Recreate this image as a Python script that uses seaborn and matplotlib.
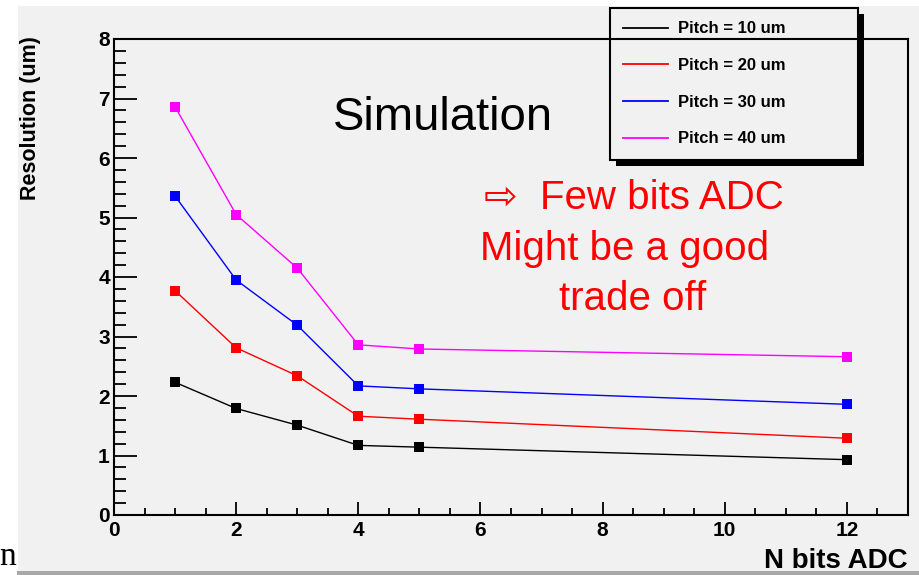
import numpy as np
import pandas as pd
import matplotlib
matplotlib.use("Agg")
import matplotlib.pyplot as plt
from matplotlib.patches import Rectangle
from matplotlib.lines import Line2D
from matplotlib.ticker import MultipleLocator
import seaborn as sns

# ---- data ----
n_bits = [1, 2, 3, 4, 5, 12]
pitch_labels = ["Pitch = 10 um", "Pitch = 20 um", "Pitch = 30 um", "Pitch = 40 um"]
res_10um = [2.23, 1.79, 1.51, 1.17, 1.14, 0.93]
res_20um = [3.77, 2.81, 2.34, 1.66, 1.61, 1.29]
res_30um = [5.36, 3.95, 3.19, 2.17, 2.12, 1.86]
res_40um = [6.86, 5.05, 4.15, 2.86, 2.79, 2.66]
colors = ["#000000", "#ff0000", "#0000ff", "#ff00ff"]

df = pd.concat(
    [pd.DataFrame({"nbits": n_bits, "res": vals, "pitch": lab})
     for lab, vals in zip(pitch_labels, [res_10um, res_20um, res_30um, res_40um])],
    ignore_index=True,
)

W, H = 920, 575
BG = "#f1f1f1"
SANS = ["Liberation Sans", "DejaVu Sans"]

fig = plt.figure(figsize=(W / 100, H / 100), dpi=100, facecolor="white")
# slide background panel and its bottom edge
fig.patches.append(Rectangle((18 / W, 1 - 571 / H), 1, (571 - 6) / H,
                             transform=fig.transFigure, facecolor=BG,
                             edgecolor="none", zorder=-10))
fig.patches.append(Rectangle((17 / W, 0), 1, 4 / H, transform=fig.transFigure,
                             facecolor="#a8a8a8", edgecolor="none", zorder=-9))

ax = fig.add_axes([114 / W, 1 - 515 / H, (908 - 114) / W, (515 - 39) / H])
ax.set_facecolor("none")

sns.lineplot(data=df, x="nbits", y="res", hue="pitch", hue_order=pitch_labels,
             palette=colors, marker="s", markersize=6.5, markeredgewidth=0,
             linewidth=1.0, errorbar=None, legend=False, ax=ax)

ax.set_xlim(0, 13)
ax.set_ylim(0, 8)
ax.set_xlabel("")
ax.set_ylabel("")
ax.xaxis.set_major_locator(MultipleLocator(2))
ax.xaxis.set_minor_locator(MultipleLocator(0.5))
ax.yaxis.set_major_locator(MultipleLocator(1))
ax.yaxis.set_minor_locator(MultipleLocator(0.2))
ax.tick_params(axis="y", which="major", direction="in", length=16.5, width=1.3, pad=3)
ax.tick_params(axis="y", which="minor", direction="in", length=8.5, width=1.3)
ax.tick_params(axis="x", which="major", direction="in", length=9.5, width=1.3, pad=4)
ax.tick_params(axis="x", which="minor", direction="in", length=5, width=1.3)
for lab in ax.get_xticklabels() + ax.get_yticklabels():
    lab.set_fontfamily(SANS)
    lab.set_fontweight("bold")
    lab.set_fontsize(15)
for sp in ax.spines.values():
    sp.set_linewidth(1.5)
    sp.set_color("black")

# axis titles
fig.text(31 / W, 1 - 36 / H, "Resolution (um)", rotation=90, ha="center", va="top",
         family=SANS, weight="bold", size=15.5)
fig.text(908 / W, 1 - 568 / H, "N bits ADC", ha="right", va="baseline",
         family=SANS, weight="bold", size=20)

# legend
handles = [Line2D([], [], color=c, linewidth=1.3) for c in colors]
leg = ax.legend(handles, pitch_labels, loc="upper left", mode="expand",
                bbox_to_anchor=(610 / W, 1 - 158 / H, 248 / W, 150 / H),
                bbox_transform=fig.transFigure, borderaxespad=0,
                prop={"family": SANS, "weight": "bold", "size": 12},
                handlelength=2.7, handletextpad=0.6, labelspacing=1.3,
                borderpad=0.8, fancybox=False, framealpha=1,
                facecolor=BG, edgecolor="black")
leg.get_frame().set_linewidth(1.5)
leg.set_zorder(2.4)

fig.canvas.draw()
bb = leg.get_window_extent()
inv = fig.transFigure.inverted()
(x0, y0), (x1, y1) = inv.transform([[bb.x0 + 6, bb.y0 - 6], [bb.x1 + 6, bb.y1 - 6]])
ax.add_artist(Rectangle((x0, y0), x1 - x0, y1 - y0, transform=fig.transFigure,
                        facecolor="black", edgecolor="none", zorder=2.3,
                        clip_on=False))

# annotations
fig.text(333 / W, 1 - 130 / H, "Simulation", ha="left", va="baseline",
         family=SANS, size=34, color="black")
fig.text(634 / W, 1 - 209 / H, "\u21e8  Few bits ADC", ha="center", va="baseline",
         family=SANS, size=29, color="#ff0000")
fig.text(625 / W, 1 - 260 / H, "Might be a good", ha="center", va="baseline",
         family=SANS, size=29, color="#ff0000")
fig.text(633 / W, 1 - 310 / H, "trade off", ha="center", va="baseline",
         family=SANS, size=29, color="#ff0000")
fig.text(-1 / W, 1 - 565 / H, "n", ha="left", va="baseline",
         family=["Liberation Serif", "DejaVu Serif"], size=24, color="black")

fig.savefig("out.png", dpi=100, facecolor="white")
